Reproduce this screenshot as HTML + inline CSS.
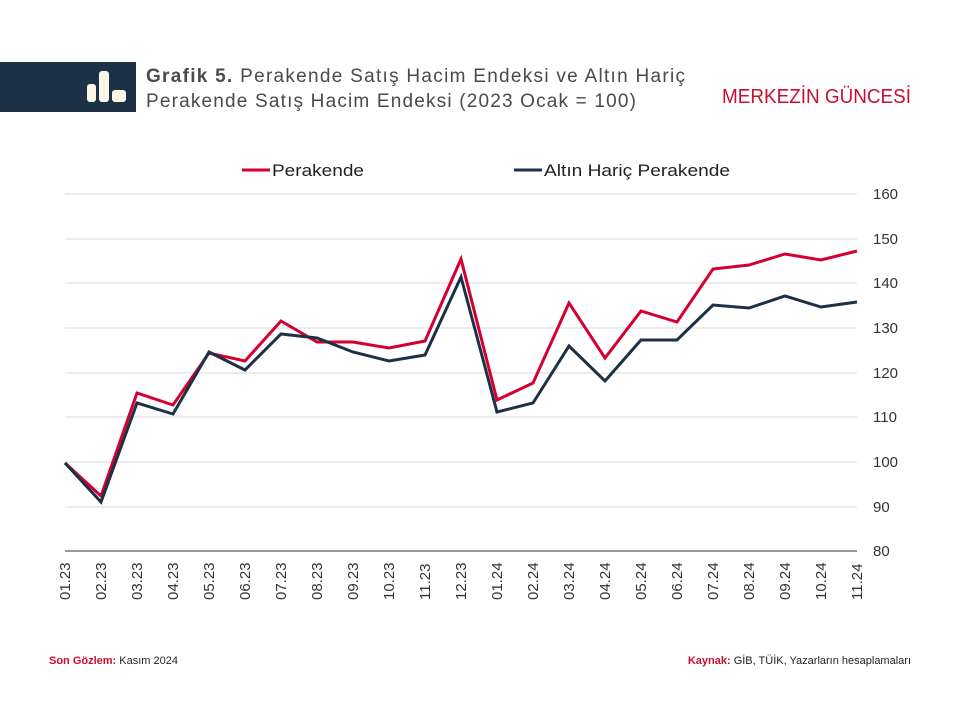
<!DOCTYPE html>
<html><head><meta charset="utf-8"><style>
body{margin:0;background:#fff;width:960px;height:720px;overflow:hidden;font-family:"Liberation Sans","DejaVu Sans",sans-serif}
</style></head><body>
<svg width="960" height="720" xmlns="http://www.w3.org/2000/svg" font-family="Liberation Sans, DejaVu Sans, sans-serif">
<rect x="0" y="62" width="136" height="50" fill="#1d3146"/>
<rect x="87" y="84" width="9" height="18" rx="3" fill="#fdf6e6"/>
<rect x="99" y="71" width="10" height="31" rx="3" fill="#fdf6e6"/>
<rect x="112" y="90" width="14" height="12" rx="3" fill="#fdf6e6"/>
<text x="146" y="82" font-size="19" fill="#4a4a4a" textLength="539" lengthAdjust="spacing"><tspan font-weight="bold">Grafik 5.</tspan> Perakende Satış Hacim Endeksi ve Altın Hariç</text>
<text x="146" y="107" font-size="19" fill="#4a4a4a" textLength="490" lengthAdjust="spacing">Perakende Satış Hacim Endeksi (2023 Ocak = 100)</text>
<text x="722" y="103" font-size="20" fill="#c8102e" textLength="189" lengthAdjust="spacingAndGlyphs">MERKEZİN GÜNCESİ</text>
<line x1="242" y1="170" x2="270" y2="170" stroke="#d50032" stroke-width="3"/>
<text x="272" y="176" font-size="17" fill="#222" textLength="92" lengthAdjust="spacingAndGlyphs">Perakende</text>
<line x1="514" y1="170" x2="542" y2="170" stroke="#1d3146" stroke-width="3"/>
<text x="544" y="176" font-size="17" fill="#222" textLength="186" lengthAdjust="spacingAndGlyphs">Altın Hariç Perakende</text>
<g stroke="#d9d9d9" stroke-width="1">
<line x1="65" y1="194" x2="857" y2="194"/><line x1="65" y1="239" x2="857" y2="239"/><line x1="65" y1="283" x2="857" y2="283"/><line x1="65" y1="328" x2="857" y2="328"/><line x1="65" y1="373" x2="857" y2="373"/><line x1="65" y1="417" x2="857" y2="417"/><line x1="65" y1="462" x2="857" y2="462"/><line x1="65" y1="507" x2="857" y2="507"/>
</g>
<line x1="65" y1="551" x2="857" y2="551" stroke="#333" stroke-width="1"/>
<g font-size="15" fill="#333">
<text x="873" y="199">160</text><text x="873" y="244">150</text><text x="873" y="288">140</text><text x="873" y="333">130</text><text x="873" y="378">120</text><text x="873" y="422">110</text><text x="873" y="467">100</text><text x="873" y="512">90</text><text x="873" y="556">80</text>
</g>
<polyline fill="none" stroke="#d50032" stroke-width="3" stroke-linejoin="miter" points="65,463 101,496 137,393 173,405 209,353 245,361 281,321 317,342 353,342 389,348 425,341 461,259 497,400 533,383 569,303 605,358 641,311 677,322 713,269 749,265 785,254 821,260 857,251"/>
<polyline fill="none" stroke="#1d3146" stroke-width="3" stroke-linejoin="miter" points="65,463 101,502 137,403 173,414 209,352 245,370 281,334 317,338 353,352 389,361 425,355 461,277 497,412 533,403 569,346 605,381 641,340 677,340 713,305 749,308 785,296 821,307 857,302"/>
<g font-size="15" fill="#333">
<text transform="translate(70,600) rotate(-90)">01.23</text>
<text transform="translate(106,600) rotate(-90)">02.23</text>
<text transform="translate(142,600) rotate(-90)">03.23</text>
<text transform="translate(178,600) rotate(-90)">04.23</text>
<text transform="translate(214,600) rotate(-90)">05.23</text>
<text transform="translate(250,600) rotate(-90)">06.23</text>
<text transform="translate(286,600) rotate(-90)">07.23</text>
<text transform="translate(322,600) rotate(-90)">08.23</text>
<text transform="translate(358,600) rotate(-90)">09.23</text>
<text transform="translate(394,600) rotate(-90)">10.23</text>
<text transform="translate(430,600) rotate(-90)">11.23</text>
<text transform="translate(466,600) rotate(-90)">12.23</text>
<text transform="translate(502,600) rotate(-90)">01.24</text>
<text transform="translate(538,600) rotate(-90)">02.24</text>
<text transform="translate(574,600) rotate(-90)">03.24</text>
<text transform="translate(610,600) rotate(-90)">04.24</text>
<text transform="translate(646,600) rotate(-90)">05.24</text>
<text transform="translate(682,600) rotate(-90)">06.24</text>
<text transform="translate(718,600) rotate(-90)">07.24</text>
<text transform="translate(754,600) rotate(-90)">08.24</text>
<text transform="translate(790,600) rotate(-90)">09.24</text>
<text transform="translate(826,600) rotate(-90)">10.24</text>
<text transform="translate(862,600) rotate(-90)">11.24</text>
</g>
<text x="49" y="664" font-size="11" fill="#222"><tspan font-weight="bold" fill="#c8102e">Son Gözlem:</tspan> Kasım 2024</text>
<text x="911" y="664" font-size="11" fill="#222" text-anchor="end"><tspan font-weight="bold" fill="#c8102e">Kaynak:</tspan> GİB, TÜİK, Yazarların hesaplamaları</text>
</svg>
</body></html>
